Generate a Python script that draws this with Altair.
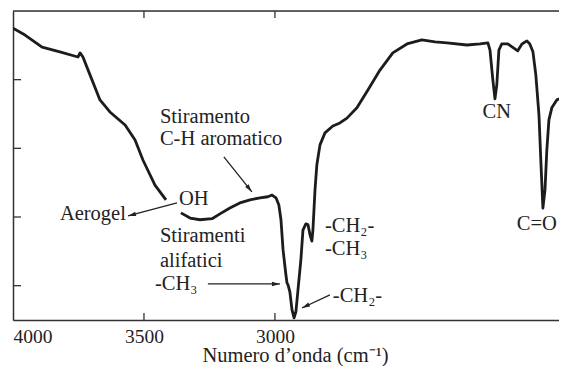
import math
import altair as alt
import pandas as pd

# ---------------- data ----------------
# Spectrum, first segment (left of the "OH" label)
seg1_wn = [4000, 3954, 3889, 3821, 3752, 3744, 3733, 3706, 3668, 3630, 3600, 3572,
           3534, 3504, 3458, 3416]
seg1_T = [95.0, 93.0, 89.5, 88.1, 86.6, 87.8, 86.6, 81.4, 74.1, 70.6, 68.6, 66.8,
          62.4, 56.6, 49.3, 45.0]
# Spectrum, second segment
seg2_wn = [3359, 3324, 3286, 3240, 3210, 3172, 3134, 3095, 3057, 3027, 3011, 2996,
           2985, 2977, 2969, 2958, 2954, 2950, 2943, 2935, 2927, 2920, 2912, 2901,
           2893, 2882, 2874, 2866, 2859, 2855, 2847, 2840, 2828, 2809, 2779, 2752,
           2725, 2687, 2645, 2599, 2550, 2496, 2439, 2389, 2343, 2267, 2217, 2187,
           2179, 2168, 2160, 2153, 2145, 2134, 2111, 2088, 2073, 2057, 2038, 2027,
           2015, 2004, 1992, 1985, 1977, 1969, 1962, 1954, 1943, 1924, 1904, 1885]
seg2_T = [41.2, 39.7, 39.2, 39.5, 40.9, 42.6, 44.1, 45.0, 45.6, 45.9, 46.4, 45.6,
          43.5, 39.2, 30.4, 23.1, 20.8, 20.2, 18.2, 13.0, 10.6, 12.4, 18.8, 27.5,
          36.2, 38.0, 37.8, 34.8, 33.0, 36.2, 47.9, 55.2, 61.0, 64.5, 66.5, 67.4,
          68.8, 71.8, 77.0, 82.8, 87.8, 90.4, 91.6, 91.0, 90.7, 90.1, 90.4, 90.7,
          88.6, 79.9, 74.4, 78.5, 88.6, 90.4, 90.4, 89.2, 88.4, 90.4, 91.3, 90.4,
          88.1, 81.4, 69.7, 56.6, 42.6, 47.9, 59.5, 68.3, 71.8, 74.1, 74.7, 75.3]

x_tick_values = [4000, 3500, 3000]
x_inner_ticks = [3500, 3000]
y_inner_ticks = [80, 60, 40, 20]
y_domain = [10, 100]
x_title = "Numero d\u2019onda (cm\u207b\u00b9)"

# Annotation texts (left-aligned)
label_text = ["Stiramento", "C-H aromatico", "OH", "Aerogel", "Stiramenti",
              "alifatici", "-CH\u2083", "-CH\u2082-", "-CH\u2083", "-CH\u2082-"]
label_wn = [3439, 3439, 3366, 3821, 3439, 3439, 3458, 2809, 2809, 2779]
label_T = [67.4, 61.0, 43.5, 39.2, 32.8, 25.5, 18.8, 35.7, 29.0, 15.3]
# Annotation texts (centred)
clabel_text = ["CN", "C=O"]
clabel_wn = [2153, 2000]
clabel_T = [68.8, 36.2]

# Arrows: start -> end
arrow_wn1 = [3195, 3374, 3256, 2790]
arrow_T1 = [57.5, 44.1, 20.5, 17.3]
arrow_wn2 = [3088, 3561, 2981, 2897]
arrow_T2 = [47.3, 40.3, 20.5, 13.5]

# ---------------- chart ----------------
PX_PER_WN = 554 / 2115.0          # horizontal scale of the reference
W, H = 546, 309
PAD = {"left": 5, "top": 3, "right": 0, "bottom": 46}
x_domain = [4000, 4000 - W / PX_PER_WN]
sx = PX_PER_WN
sy = H / (y_domain[1] - y_domain[0])

spec = pd.concat([
    pd.DataFrame({"wn": seg1_wn, "T": seg1_T, "seg": "a"}),
    pd.DataFrame({"wn": seg2_wn, "T": seg2_T, "seg": "b"}),
])

FONT = "Liberation Serif"
INK = "#222222"
AX = "#333333"

xscale = alt.Scale(domain=x_domain, nice=False, zero=False)
yscale = alt.Scale(domain=y_domain, nice=False, zero=False)
xaxis = alt.Axis(values=x_tick_values, format="d", labelFlush=True, ticks=False,
                 grid=False, domainColor=AX, domainWidth=1.5, labelFont=FONT,
                 labelFontSize=19.5, labelColor=INK, labelBaseline="alphabetic",
                 labelPadding=22, title=x_title, titleFont=FONT,
                 titleFontSize=20.5, titleFontWeight="normal", titleColor=INK,
                 titleBaseline="alphabetic", titleY=41, titleX=282)
yaxis = alt.Axis(labels=False, ticks=False, grid=False, domainColor=AX,
                 domainWidth=1.5, title=None)


def X(field="wn"):
    return alt.X(f"{field}:Q", scale=xscale, axis=xaxis)


def Y(field="T"):
    return alt.Y(f"{field}:Q", scale=yscale, axis=yaxis)


line = alt.Chart(spec).mark_line(color="#1c1c1c", strokeWidth=2.8,
                                 strokeJoin="round", clip=True).encode(
    x=X(), y=Y(), detail="seg:N")

TICK = 7 / sy
ticks_x = pd.DataFrame({
    "wn": x_inner_ticks * 2,
    "T": [y_domain[0]] * len(x_inner_ticks) + [y_domain[1]] * len(x_inner_ticks),
    "T2": [y_domain[0] + TICK] * len(x_inner_ticks)
          + [y_domain[1] - TICK] * len(x_inner_ticks),
})
tick_x = alt.Chart(ticks_x).mark_rule(color=AX, strokeWidth=1.3).encode(
    x=X(), y=Y(), y2="T2:Q")
yt = pd.DataFrame({"T": y_inner_ticks})
tick_left = alt.Chart(yt).mark_rule(color=AX, strokeWidth=1.3).encode(
    y=Y(), x=alt.value(0), x2=alt.value(8))
top_border = alt.Chart(pd.DataFrame({"T": [y_domain[1]]})).mark_rule(
    color=AX, strokeWidth=1.6).encode(
    y=Y(), x=alt.value(0), x2=alt.value(W))

labels = alt.Chart(pd.DataFrame({"wn": label_wn, "T": label_T, "t": label_text})
                   ).mark_text(align="left", baseline="alphabetic", font=FONT,
                               fontSize=20.5, color=INK).encode(
    x=X(), y=Y(), text="t:N")
clabels = alt.Chart(pd.DataFrame({"wn": clabel_wn, "T": clabel_T, "t": clabel_text})
                    ).mark_text(align="center", baseline="alphabetic", font=FONT,
                                fontSize=20.5, color=INK).encode(
    x=X(), y=Y(), text="t:N")

arrows = pd.DataFrame({"wn": arrow_wn1, "T": arrow_T1,
                       "wn2": arrow_wn2, "T2": arrow_T2})
arrows["ang"] = [
    math.degrees(math.atan2(-(b - a) * sx, (d - c) * sy)) % 360
    for a, b, c, d in zip(arrow_wn1, arrow_wn2, arrow_T1, arrow_T2)
]
arrow_lines = alt.Chart(arrows).mark_rule(color=INK, strokeWidth=1.3).encode(
    x=X(), y=Y(), x2="wn2:Q", y2="T2:Q")
arrow_heads = alt.Chart(arrows).mark_point(
    shape="M0,0L-0.55,2L0.55,2Z", filled=True, size=64, color=INK, opacity=1,
    strokeWidth=0).encode(
    x=alt.X("wn2:Q", scale=xscale, axis=xaxis),
    y=alt.Y("T2:Q", scale=yscale, axis=yaxis),
    angle=alt.Angle("ang:Q", scale=None))

chart = alt.layer(line, tick_x, tick_left, top_border,
                  arrow_lines, arrow_heads, labels, clabels).properties(
    width=W, height=H, padding=PAD,
    autosize=alt.AutoSizeParams(type="none"),
).configure_view(stroke=None).configure(background="white")

chart.save("out.html", embed_options={"renderer": "svg", "actions": False})
